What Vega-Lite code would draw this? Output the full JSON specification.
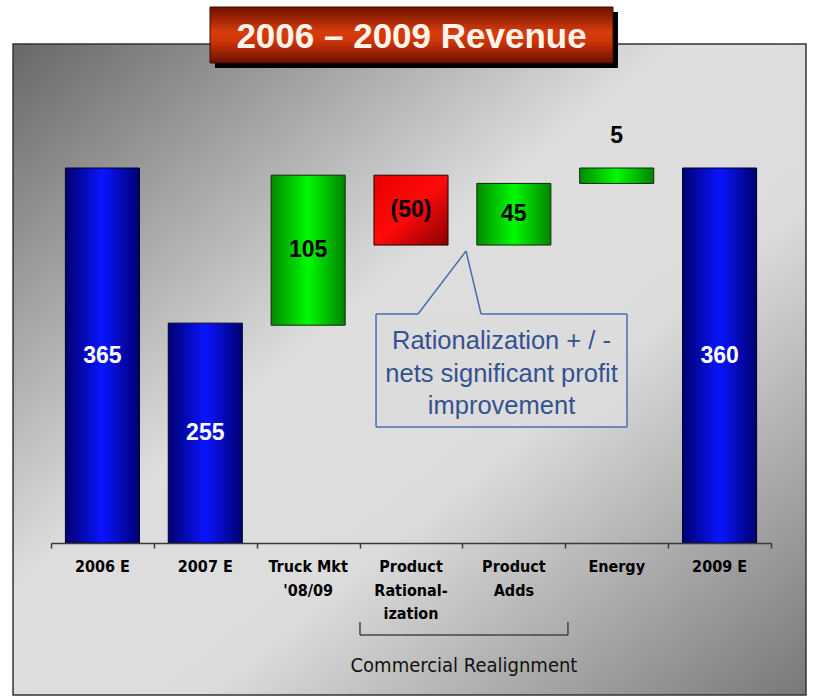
{
  "$schema": "https://vega.github.io/schema/vega-lite/v6.json",
  "width": 720,
  "height": 543,
  "autosize": {"type": "none"},
  "padding": {"left": 51, "top": 0, "right": 43, "bottom": 156},
  "background": "white",
  "config": {"view": {"stroke": null}},
  "data": {"values": [
    {"category": "2006 E", "axisLabel": "2006 E", "type": "total", "start": 0, "end": 365, "label": "365"},
    {"category": "2007 E", "axisLabel": "2007 E", "type": "total", "start": 0, "end": 214, "label": "255"},
    {"category": "Truck Mkt '08/09", "axisLabel": "Truck Mkt|'08/09", "type": "increase", "start": 212, "end": 358, "label": "105"},
    {"category": "Product Rationalization", "axisLabel": "Product|Rational-|ization", "type": "decrease", "start": 290, "end": 358, "label": "(50)"},
    {"category": "Product Adds", "axisLabel": "Product|Adds", "type": "increase", "start": 290, "end": 350, "label": "45"},
    {"category": "Energy", "axisLabel": "Energy", "type": "increase", "start": 350, "end": 365, "label": "5"},
    {"category": "2009 E", "axisLabel": "2009 E", "type": "total", "start": 0, "end": 365, "label": "360"}
  ]},
  "resolve": {"scale": {"x": "independent"}},
  "layer": [
    {
      "data": {"values": [{}]},
      "mark": {"type": "rect", "stroke": "#333333", "strokeWidth": 1.5,
        "fill": {"gradient": "linear", "x1": 0, "y1": 0, "x2": 1, "y2": 1,
          "stops": [{"offset": 0, "color": "#686868"}, {"offset": 0.42, "color": "#dedede"}, {"offset": 0.62, "color": "#dcdcdc"}, {"offset": 1, "color": "#787878"}]}},
      "encoding": {
        "x": {"datum": -0.369, "type": "quantitative", "scale": {"domain": [0, 7], "nice": false, "zero": false}, "axis": null},
        "x2": {"datum": 7.34},
        "y": {"datum": 485.7, "type": "quantitative", "scale": {"domain": [0, 528.52], "nice": false, "zero": false}, "axis": null},
        "y2": {"datum": -147.9}
      }
    },
    {
      "data": {"values": [{}]},
      "mark": {"type": "rect", "fill": "#000000"},
      "encoding": {
        "x": {"datum": 1.594, "type": "quantitative", "scale": {"domain": [0, 7], "nice": false, "zero": false}, "axis": null},
        "x2": {"datum": 5.512},
        "y": {"datum": 516.8, "type": "quantitative", "scale": {"domain": [0, 528.52], "nice": false, "zero": false}, "axis": null},
        "y2": {"datum": 462.3}
      }
    },
    {
      "data": {"values": [{}]},
      "mark": {"type": "rect", "stroke": "#3a0a00", "strokeWidth": 1,
        "fill": {"gradient": "linear", "x1": 0, "y1": 0, "x2": 0, "y2": 1,
          "stops": [{"offset": 0, "color": "#6e1200"}, {"offset": 0.45, "color": "#d63c0c"}, {"offset": 0.6, "color": "#cf3608"}, {"offset": 1, "color": "#6a1000"}]}},
      "encoding": {
        "x": {"datum": 1.546, "type": "quantitative", "scale": {"domain": [0, 7], "nice": false, "zero": false}, "axis": null},
        "x2": {"datum": 5.464},
        "y": {"datum": 521.7, "type": "quantitative", "scale": {"domain": [0, 528.52], "nice": false, "zero": false}, "axis": null},
        "y2": {"datum": 467.2}
      }
    },
    {
      "data": {"values": [{}]},
      "mark": {"type": "text", "text": "2006 – 2009 Revenue", "font": "Liberation Sans", "fontWeight": "bold", "fontSize": 35, "color": "#fff4ea", "align": "center", "baseline": "middle"},
      "encoding": {
        "x": {"datum": 3.505, "type": "quantitative", "scale": {"domain": [0, 7], "nice": false, "zero": false}, "axis": null},
        "y": {"datum": 492.5, "type": "quantitative", "scale": {"domain": [0, 528.52], "nice": false, "zero": false}, "axis": null}
      }
    },
    {
      "transform": [{"filter": "datum.type === 'total'"}],
      "mark": {"type": "bar", "width": {"band": 0.72}, "stroke": "#000028", "strokeWidth": 1,
        "fill": {"gradient": "linear", "x1": 0, "y1": 0, "x2": 1, "y2": 0,
          "stops": [{"offset": 0, "color": "#000070"}, {"offset": 0.5, "color": "#0a14ff"}, {"offset": 1, "color": "#000070"}]}},
      "encoding": {
        "x": {"field": "category", "type": "nominal", "sort": null,
          "scale": {"domain": ["2006 E", "2007 E", "Truck Mkt '08/09", "Product Rationalization", "Product Adds", "Energy", "2009 E"], "paddingInner": 0, "paddingOuter": 0},
          "axis": {"orient": "bottom", "title": null, "labels": false, "zindex": 1, "domainColor": "#3a3a3a", "domainWidth": 1.5, "tickColor": "#3a3a3a", "tickWidth": 1.5, "tickSize": 5, "tickBand": "extent", "grid": false}},
        "y": {"field": "start", "type": "quantitative", "scale": {"domain": [0, 528.52], "nice": false, "zero": false}, "axis": null},
        "y2": {"field": "end"}
      }
    },
    {
      "transform": [{"filter": "datum.type === 'increase'"}],
      "mark": {"type": "bar", "width": {"band": 0.72}, "stroke": "#0a2a0a", "strokeWidth": 1,
        "fill": {"gradient": "linear", "x1": 0, "y1": 0, "x2": 1, "y2": 0,
          "stops": [{"offset": 0, "color": "#008a00"}, {"offset": 0.5, "color": "#00fa00"}, {"offset": 1, "color": "#008400"}]}},
      "encoding": {
        "x": {"field": "category", "type": "nominal", "sort": null,
          "scale": {"domain": ["2006 E", "2007 E", "Truck Mkt '08/09", "Product Rationalization", "Product Adds", "Energy", "2009 E"], "paddingInner": 0, "paddingOuter": 0}, "axis": null},
        "y": {"field": "start", "type": "quantitative", "scale": {"domain": [0, 528.52], "nice": false, "zero": false}, "axis": null},
        "y2": {"field": "end"}
      }
    },
    {
      "transform": [{"filter": "datum.type === 'decrease'"}],
      "mark": {"type": "bar", "width": {"band": 0.72}, "stroke": "#2a0000", "strokeWidth": 1,
        "fill": {"gradient": "linear", "x1": 0, "y1": 0, "x2": 1, "y2": 1,
          "stops": [{"offset": 0, "color": "#e80000"}, {"offset": 0.5, "color": "#ff0a0a"}, {"offset": 1, "color": "#8a0000"}]}},
      "encoding": {
        "x": {"field": "category", "type": "nominal", "sort": null,
          "scale": {"domain": ["2006 E", "2007 E", "Truck Mkt '08/09", "Product Rationalization", "Product Adds", "Energy", "2009 E"], "paddingInner": 0, "paddingOuter": 0}, "axis": null},
        "y": {"field": "start", "type": "quantitative", "scale": {"domain": [0, 528.52], "nice": false, "zero": false}, "axis": null},
        "y2": {"field": "end"}
      }
    },
    {
      "mark": {"type": "text", "font": "DejaVu Sans Condensed", "fontWeight": "bold", "fontSize": 16, "color": "#000000", "align": "center", "baseline": "top", "lineBreak": "|", "lineHeight": 23.5, "dy": 16},
      "encoding": {
        "x": {"field": "category", "type": "nominal", "sort": null, "bandPosition": 0.5,
          "scale": {"domain": ["2006 E", "2007 E", "Truck Mkt '08/09", "Product Rationalization", "Product Adds", "Energy", "2009 E"], "paddingInner": 0, "paddingOuter": 0}, "axis": null},
        "y": {"datum": 0, "type": "quantitative", "scale": {"domain": [0, 528.52], "nice": false, "zero": false}, "axis": null},
        "text": {"field": "axisLabel"}
      }
    },
    {
      "data": {"values": [{}]},
      "mark": {"type": "rect", "fill": "#dcdcdc", "opacity": 0.85},
      "encoding": {
        "x": {"datum": 3.160, "type": "quantitative", "scale": {"domain": [0, 7], "nice": false, "zero": false}, "axis": null},
        "x2": {"datum": 5.600},
        "y": {"datum": 222.9, "type": "quantitative", "scale": {"domain": [0, 528.52], "nice": false, "zero": false}, "axis": null},
        "y2": {"datum": 112.9}
      }
    },
    {
      "data": {"values": [{}]},
      "mark": {"type": "text", "text": "Commercial Realignment", "font": "DejaVu Sans Condensed", "fontSize": 20, "color": "#111111", "align": "center", "baseline": "middle"},
      "encoding": {
        "x": {"datum": 4.015, "type": "quantitative", "scale": {"domain": [0, 7], "nice": false, "zero": false}, "axis": null},
        "y": {"datum": -119.8, "type": "quantitative", "scale": {"domain": [0, 528.52], "nice": false, "zero": false}, "axis": null}
      }
    },
    {
      "data": {"values": [{}]},
      "mark": {"type": "text", "text": "Rationalization + / -|nets significant profit|improvement", "lineBreak": "|", "font": "Liberation Sans", "fontSize": 25.5, "lineHeight": 32.5, "color": "#34528f", "align": "center", "baseline": "middle"},
      "encoding": {
        "x": {"datum": 4.38, "type": "quantitative", "scale": {"domain": [0, 7], "nice": false, "zero": false}, "axis": null},
        "y": {"datum": 196.5, "type": "quantitative", "scale": {"domain": [0, 528.52], "nice": false, "zero": false}, "axis": null}
      }
    },
    {
      "transform": [{"filter": "datum.category === 'Energy'"}],
      "mark": {"type": "text", "font": "Liberation Sans", "fontWeight": "bold", "fontSize": 23, "align": "center", "baseline": "middle", "dy": -32, "color": "#000000"},
      "encoding": {
        "x": {"field": "category", "type": "nominal", "sort": null, "bandPosition": 0.5,
          "scale": {"domain": ["2006 E", "2007 E", "Truck Mkt '08/09", "Product Rationalization", "Product Adds", "Energy", "2009 E"], "paddingInner": 0, "paddingOuter": 0}, "axis": null},
        "y": {"field": "end", "type": "quantitative", "scale": {"domain": [0, 528.52], "nice": false, "zero": false}, "axis": null},
        "text": {"field": "label"}
      }
    },
    {
      "transform": [
        {"filter": "datum.category !== 'Energy'"},
        {"fold": ["start", "end"]},
        {"aggregate": [{"op": "mean", "field": "value", "as": "mid"}], "groupby": ["category", "type", "label"]}
      ],
      "mark": {"type": "text", "font": "Liberation Sans", "fontWeight": "bold", "fontSize": 23, "align": "center", "baseline": "middle"},
      "encoding": {
        "x": {"field": "category", "type": "nominal", "sort": null, "bandPosition": 0.5,
          "scale": {"domain": ["2006 E", "2007 E", "Truck Mkt '08/09", "Product Rationalization", "Product Adds", "Energy", "2009 E"], "paddingInner": 0, "paddingOuter": 0}, "axis": null},
        "y": {"field": "mid", "type": "quantitative", "scale": {"domain": [0, 528.52], "nice": false, "zero": false}, "axis": null},
        "text": {"field": "label"},
        "color": {"condition": {"test": "datum.type === 'total'", "value": "#ffffff"}, "value": "#000000"}
      }
    },
    {
      "data": {"values": [{}]},
      "mark": {"type": "rule", "color": "#4a6db0", "strokeWidth": 1.5},
      "encoding": {
        "x": {"datum": 3.160, "type": "quantitative", "scale": {"domain": [0, 7], "nice": false, "zero": false}, "axis": null},
        "x2": {"datum": 3.160},
        "y": {"datum": 222.9, "type": "quantitative", "scale": {"domain": [0, 528.52], "nice": false, "zero": false}, "axis": null},
        "y2": {"datum": 112.9}
      }
    },
    {
      "data": {"values": [{}]},
      "mark": {"type": "rule", "color": "#4a6db0", "strokeWidth": 1.5},
      "encoding": {
        "x": {"datum": 5.600, "type": "quantitative", "scale": {"domain": [0, 7], "nice": false, "zero": false}, "axis": null},
        "x2": {"datum": 5.600},
        "y": {"datum": 222.9, "type": "quantitative", "scale": {"domain": [0, 528.52], "nice": false, "zero": false}, "axis": null},
        "y2": {"datum": 112.9}
      }
    },
    {
      "data": {"values": [{}]},
      "mark": {"type": "rule", "color": "#4a6db0", "strokeWidth": 1.5},
      "encoding": {
        "x": {"datum": 3.160, "type": "quantitative", "scale": {"domain": [0, 7], "nice": false, "zero": false}, "axis": null},
        "x2": {"datum": 5.600},
        "y": {"datum": 112.9, "type": "quantitative", "scale": {"domain": [0, 528.52], "nice": false, "zero": false}, "axis": null},
        "y2": {"datum": 112.9}
      }
    },
    {
      "data": {"values": [{}]},
      "mark": {"type": "rule", "color": "#4a6db0", "strokeWidth": 1.5},
      "encoding": {
        "x": {"datum": 3.160, "type": "quantitative", "scale": {"domain": [0, 7], "nice": false, "zero": false}, "axis": null},
        "x2": {"datum": 3.568},
        "y": {"datum": 222.9, "type": "quantitative", "scale": {"domain": [0, 528.52], "nice": false, "zero": false}, "axis": null},
        "y2": {"datum": 222.9}
      }
    },
    {
      "data": {"values": [{}]},
      "mark": {"type": "rule", "color": "#4a6db0", "strokeWidth": 1.5},
      "encoding": {
        "x": {"datum": 4.181, "type": "quantitative", "scale": {"domain": [0, 7], "nice": false, "zero": false}, "axis": null},
        "x2": {"datum": 5.600},
        "y": {"datum": 222.9, "type": "quantitative", "scale": {"domain": [0, 528.52], "nice": false, "zero": false}, "axis": null},
        "y2": {"datum": 222.9}
      }
    },
    {
      "data": {"values": [{}]},
      "mark": {"type": "rule", "color": "#4a6db0", "strokeWidth": 1.5},
      "encoding": {
        "x": {"datum": 3.568, "type": "quantitative", "scale": {"domain": [0, 7], "nice": false, "zero": false}, "axis": null},
        "x2": {"datum": 4.035},
        "y": {"datum": 222.9, "type": "quantitative", "scale": {"domain": [0, 528.52], "nice": false, "zero": false}, "axis": null},
        "y2": {"datum": 284.2}
      }
    },
    {
      "data": {"values": [{}]},
      "mark": {"type": "rule", "color": "#4a6db0", "strokeWidth": 1.5},
      "encoding": {
        "x": {"datum": 4.035, "type": "quantitative", "scale": {"domain": [0, 7], "nice": false, "zero": false}, "axis": null},
        "x2": {"datum": 4.181},
        "y": {"datum": 284.2, "type": "quantitative", "scale": {"domain": [0, 528.52], "nice": false, "zero": false}, "axis": null},
        "y2": {"datum": 222.9}
      }
    },
    {
      "data": {"values": [{}]},
      "mark": {"type": "rule", "color": "#444444", "strokeWidth": 1.5},
      "encoding": {
        "x": {"datum": 3.004, "type": "quantitative", "scale": {"domain": [0, 7], "nice": false, "zero": false}, "axis": null},
        "x2": {"datum": 3.004},
        "y": {"datum": -76.9, "type": "quantitative", "scale": {"domain": [0, 528.52], "nice": false, "zero": false}, "axis": null},
        "y2": {"datum": -89.5}
      }
    },
    {
      "data": {"values": [{}]},
      "mark": {"type": "rule", "color": "#444444", "strokeWidth": 1.5},
      "encoding": {
        "x": {"datum": 5.026, "type": "quantitative", "scale": {"domain": [0, 7], "nice": false, "zero": false}, "axis": null},
        "x2": {"datum": 5.026},
        "y": {"datum": -76.9, "type": "quantitative", "scale": {"domain": [0, 528.52], "nice": false, "zero": false}, "axis": null},
        "y2": {"datum": -89.5}
      }
    },
    {
      "data": {"values": [{}]},
      "mark": {"type": "rule", "color": "#444444", "strokeWidth": 1.5},
      "encoding": {
        "x": {"datum": 3.004, "type": "quantitative", "scale": {"domain": [0, 7], "nice": false, "zero": false}, "axis": null},
        "x2": {"datum": 5.026},
        "y": {"datum": -89.5, "type": "quantitative", "scale": {"domain": [0, 528.52], "nice": false, "zero": false}, "axis": null},
        "y2": {"datum": -89.5}
      }
    }
  ]
}
